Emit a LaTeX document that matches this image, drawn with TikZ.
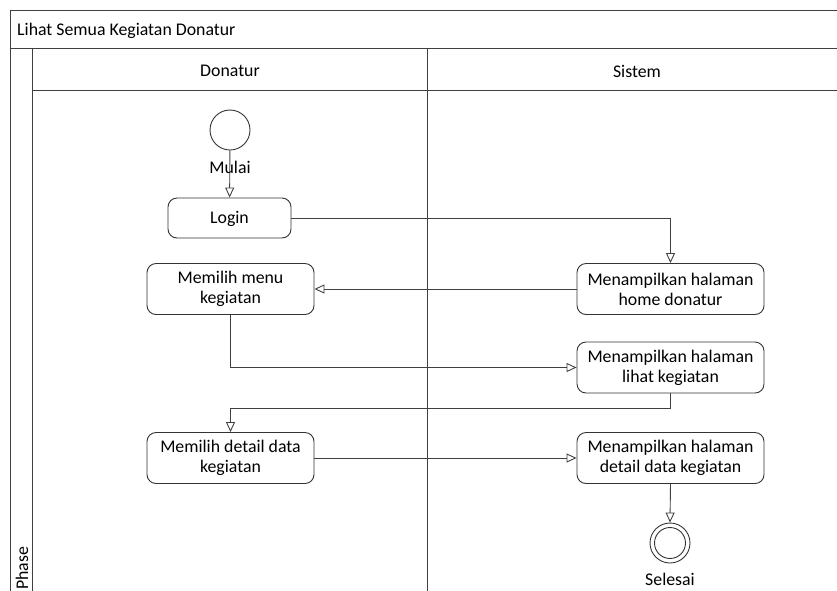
\documentclass[tikz,border=0pt]{standalone}
\usepackage{fontspec}
\setmainfont{Carlito}
\usetikzlibrary{arrows.meta}
\begin{document}
\begin{tikzpicture}[x=1pt,y=-1pt,
  act/.style={draw=black!80,line width=0.9pt,rounded corners=9pt,fill=white,minimum height=51pt,minimum width=167pt,align=center,font=\fontsize{17.8}{20}\selectfont,inner sep=2pt},
  flow/.style={draw=black!75,line width=0.9pt,-{Triangle[open,length=10pt,width=9pt]}},
  frame/.style={draw=black!75,line width=1pt},
  lbl/.style={font=\fontsize{17.8}{20}\selectfont}]
\useasboundingbox (0,0) rectangle (837,590);
\begin{scope}
\clip (0,0) rectangle (837,590);
\draw[frame] (10,600) -- (10,10) -- (850,10);
\draw[frame] (10,48) -- (850,48);
\draw[frame] (32,48) -- (32,600);
\draw[frame] (427,48) -- (427,600);
\draw[frame] (32,90) -- (850,90);
\end{scope}
\node[lbl,anchor=west,inner sep=0pt] (title) at (17,30.5) {Lihat Semua Kegiatan Donatur};
\node[lbl] (lane1) at (230,71) {Donatur};
\node[lbl] (lane2) at (637,71) {Sistem};
\node[lbl,rotate=90,anchor=west,inner sep=0pt] (phase) at (22,590) {Phase};

\node[circle,draw=black!80,line width=0.9pt,minimum size=40pt,inner sep=0pt] (start) at (230,130) {};
\node[act,minimum width=123pt,minimum height=40pt,text depth=2pt] (login) at (229.5,218) {Login};
\node[act] (menu) at (230.5,289) {Memilih menu\\kegiatan};
\node[act,minimum width=187pt] (home) at (670.5,289) {Menampilkan halaman\\home donatur};
\node[act,minimum width=187pt] (lihat) at (670.5,367.5) {Menampilkan halaman\\lihat kegiatan};
\node[act] (pilih) at (230.5,458) {Memilih detail data\\kegiatan};
\node[act,minimum width=187pt] (detail) at (670.5,458) {Menampilkan halaman\\detail data kegiatan};
\node[circle,draw=black!80,line width=0.9pt,minimum size=40pt,inner sep=0pt] (end) at (670,543) {};
\node[circle,draw=black!80,line width=0.9pt,minimum size=31pt,inner sep=0pt] (endin) at (670,543) {};

\draw[flow] (start) -- (login);
\node[lbl] (mulai) at (230,167) {Mulai};
\node[lbl] (selesai) at (670,579) {Selesai};

\draw[flow] (login.east) -| (home.north);
\draw[flow] (home.west) -- (menu.east);
\draw[flow] (menu.south) |- (lihat.west);
\draw[flow] (lihat.south) -- ++(0,15) -| (pilih.north);
\draw[flow] (pilih.east) -- (detail.west);
\draw[flow] (detail.south) -- (end.north);
\end{tikzpicture}
\end{document}
